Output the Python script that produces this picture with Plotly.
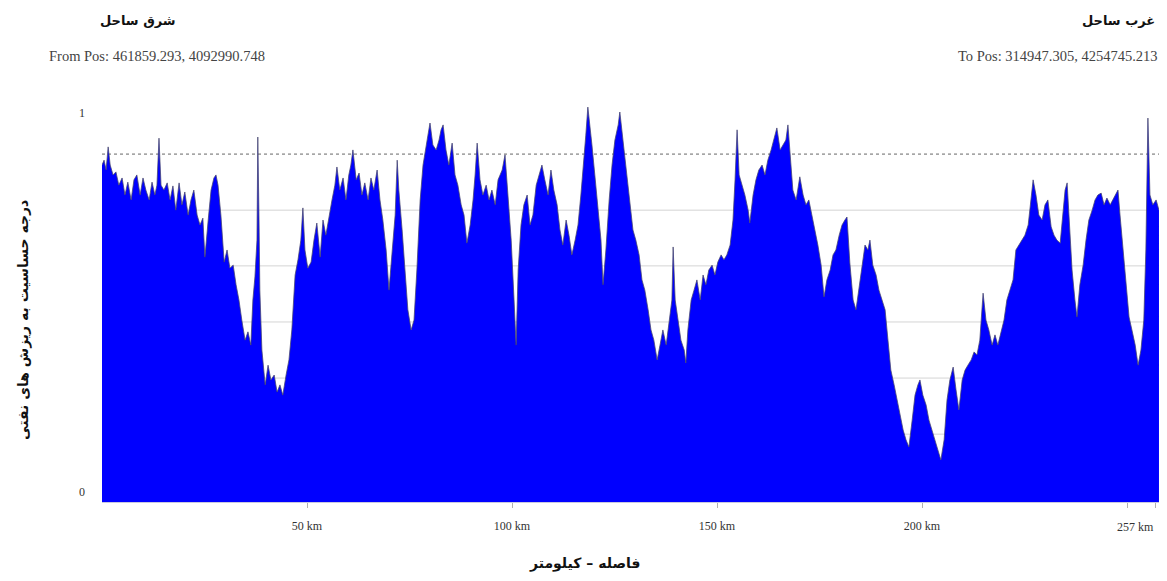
import plotly.graph_objects as go

# distance along profile (km) and oil-spill sensitivity (0..1)
distance_km = [
 0.0,0.5,1.0,1.5,2.0,2.7,3.4,4.1,4.9,5.6,6.3,7.1,7.8,8.5,9.3,10.0,10.7,11.5,12.2,12.9,13.4,13.9,14.4,15.1,15.9,
 16.6,17.3,18.0,18.8,19.5,20.2,21.0,21.7,22.4,23.2,23.9,24.6,25.1,25.9,26.6,27.3,27.8,28.3,29.0,29.8,30.5,31.2,
 32.0,32.7,33.4,34.1,34.9,35.6,36.3,36.8,37.3,37.8,38.0,38.3,38.5,39.0,39.8,40.5,41.2,42.0,42.7,43.4,44.1,44.9,
 45.6,46.3,47.1,47.8,48.5,49.0,49.5,50.2,51.0,51.7,52.4,53.2,53.9,54.6,55.4,56.1,56.8,57.3,58.0,58.8,59.5,60.2,
 60.7,61.2,62.0,62.7,63.4,64.1,64.9,65.6,66.3,67.1,67.8,68.5,69.3,70.0,70.7,71.5,72.0,72.4,73.2,73.9,74.6,75.4,
 76.1,76.8,77.6,78.3,79.0,79.5,80.0,80.7,81.5,82.2,82.7,83.2,83.9,84.6,85.4,86.1,86.8,87.6,88.3,89.0,89.8,90.5,
 91.0,91.5,92.2,92.9,93.7,94.4,95.1,95.9,96.6,97.6,98.3,99.0,99.8,100.5,101.0,101.5,102.2,102.9,103.7,104.4,
 105.1,105.9,106.6,107.3,108.0,108.8,109.5,110.2,111.0,111.7,112.4,113.2,113.9,114.6,115.4,116.1,116.8,117.6,
 118.0,118.5,119.0,119.5,120.2,121.0,121.7,122.2,122.9,123.7,124.4,125.1,125.9,126.3,126.8,127.3,128.0,128.8,
 129.5,130.2,131.0,131.7,132.4,133.2,133.9,134.6,135.4,136.1,136.8,137.6,138.3,139.0,139.3,139.8,140.5,141.2,
 142.0,142.4,142.9,143.7,144.4,145.1,145.9,146.6,147.3,148.0,148.8,149.5,150.2,151.0,151.7,152.4,153.2,153.9,
 154.4,154.9,155.4,156.1,156.8,157.6,158.0,158.8,159.5,160.2,161.0,161.7,162.4,163.2,163.9,164.6,165.4,166.1,
 166.8,167.3,167.8,168.5,169.3,170.2,171.0,171.7,172.4,173.2,173.9,174.6,175.4,176.1,176.8,177.6,178.3,179.0,
 179.8,180.5,181.2,181.7,182.4,183.2,183.9,184.6,185.4,186.1,186.8,187.3,188.0,188.8,189.5,190.2,191.0,191.7,
 192.4,193.2,193.9,194.6,195.4,196.1,196.8,197.6,198.3,199.0,199.5,200.2,201.0,201.7,202.4,203.2,203.9,204.6,
 205.4,206.1,206.8,207.6,208.3,209.0,209.8,210.5,211.2,212.0,212.7,213.4,214.1,214.9,215.6,216.3,217.1,217.8,
 218.5,219.3,220.0,220.7,221.5,222.2,222.9,223.7,224.4,225.1,225.9,226.6,227.1,227.8,228.5,229.3,230.0,230.7,
 231.5,232.2,232.9,233.7,234.4,234.9,235.4,235.9,236.6,237.3,237.8,238.5,239.3,240.0,240.7,241.5,242.2,242.9,
 243.7,244.4,245.1,245.9,246.6,247.3,247.8,248.3,249.0,249.8,250.5,251.2,252.0,252.7,253.4,254.1,254.6,255.1,
 255.6,256.3,257.1,257.8,
]
sensitivity = [
 0.889,0.902,0.876,0.937,0.889,0.863,0.871,0.836,0.855,0.810,0.844,0.797,0.850,0.863,0.810,0.855,0.823,0.797,0.844,0.810,0.836,0.960,0.836,0.823,0.842,
 0.797,0.834,0.770,0.842,0.784,0.818,0.757,0.797,0.823,0.757,0.731,0.749,0.646,0.744,0.823,0.855,0.863,0.836,0.757,0.633,0.665,0.617,
 0.625,0.573,0.533,0.480,0.427,0.449,0.414,0.533,0.594,0.691,0.963,0.744,0.559,0.401,0.309,0.361,0.322,0.335,0.290,0.309,0.282,0.335,
 0.375,0.454,0.599,0.639,0.691,0.776,0.665,0.617,0.633,0.691,0.736,0.646,0.744,0.704,0.757,0.797,0.836,0.884,0.823,0.855,0.797,0.863,
 0.889,0.929,0.850,0.868,0.810,0.842,0.797,0.855,0.823,0.876,0.797,0.744,0.665,0.559,0.652,0.757,0.902,0.823,0.718,0.612,0.507,0.454,
 0.480,0.612,0.797,0.889,0.929,0.968,1.000,0.942,0.929,0.955,0.982,0.995,0.929,0.889,0.947,0.863,0.836,0.784,0.757,0.683,0.731,0.797,
 0.863,0.947,0.850,0.810,0.836,0.797,0.823,0.784,0.850,0.876,0.916,0.797,0.691,0.533,0.414,0.612,0.731,0.784,0.810,0.731,
 0.757,0.836,0.863,0.889,0.850,0.810,0.876,0.823,0.784,0.718,0.678,0.744,0.704,0.652,0.691,0.731,0.810,0.902,
 0.968,1.042,0.995,0.942,0.863,0.770,0.691,0.573,0.665,0.797,0.889,0.955,0.995,1.029,0.982,0.929,0.863,0.784,
 0.718,0.691,0.652,0.586,0.559,0.507,0.454,0.427,0.375,0.414,0.454,0.414,0.467,0.533,0.673,0.533,0.480,0.427,
 0.401,0.367,0.454,0.533,0.559,0.586,0.533,0.599,0.573,0.612,0.625,0.599,0.633,0.652,0.639,0.652,0.678,0.744,
 0.850,0.982,0.863,0.836,0.810,0.770,0.736,0.810,0.850,0.876,0.889,0.863,0.902,0.929,0.955,0.987,0.929,0.942,
 0.955,0.995,0.929,0.823,0.797,0.858,0.810,0.784,0.797,0.757,0.718,0.678,0.625,0.541,0.586,0.612,0.652,0.665,
 0.704,0.731,0.744,0.752,0.631,0.533,0.507,0.559,0.625,0.678,0.665,0.691,0.625,0.599,0.559,0.533,0.507,0.427,
 0.348,0.309,0.269,0.235,0.190,0.164,0.145,0.216,0.282,0.309,0.322,0.282,0.256,0.216,0.190,0.164,0.137,0.111,
 0.164,0.269,0.322,0.356,0.296,0.243,0.322,0.348,0.361,0.375,0.396,0.388,0.427,0.551,0.480,0.454,0.414,0.441,
 0.414,0.454,0.480,0.533,0.559,0.586,0.665,0.678,0.691,0.704,0.731,0.797,0.850,0.810,0.757,0.744,0.784,0.797,
 0.726,0.704,0.691,0.683,0.770,0.823,0.842,0.744,0.612,0.533,0.488,0.573,0.625,0.691,0.744,0.770,0.797,0.810,
 0.815,0.784,0.802,0.784,0.797,0.810,0.823,0.757,0.665,0.559,0.488,0.454,0.414,0.361,0.401,0.480,0.665,1.013,
 0.810,0.784,0.797,0.770,
]

x_tick_vals = [50, 100, 150, 200, 250, 257]
x_tick_text = ["50 km", "100 km", "150 km", "200 km", "", ""]
end_km = 257
end_label = "257 km"
y_tick_vals = [0, 1]
y_tick_text = ["0", "1"]
threshold_level = 0.918
grid_levels = [0.770, 0.623, 0.475, 0.327, 0.179, 0.032]

title_left = "شرق ساحل"
title_right = "غرب ساحل"
from_text = "From Pos: 461859.293, 4092990.748"
to_text = "To Pos: 314947.305, 4254745.213"
x_title = "فاصله – کیلومتر"
y_title = "درجه حساسیت به ریزش های نفتی"

fig = go.Figure()
fig.add_trace(go.Scatter(
    x=distance_km, y=sensitivity, mode="lines", fill="tozeroy",
    fillcolor="#0000FF", line=dict(color="rgba(70,70,110,0.85)", width=0.9),
    hoverinfo="skip", showlegend=False))

shapes = []
for g in grid_levels:
    shapes.append(dict(type="line", xref="paper", x0=0, x1=1, yref="y", y0=g, y1=g,
                       line=dict(color="#d4d4d4", width=1), layer="below"))
shapes.append(dict(type="line", xref="paper", x0=0, x1=1, yref="y", y0=threshold_level, y1=threshold_level,
                   line=dict(color="#666666", width=1, dash="dot"), layer="below"))

serif = "Liberation Serif"
arab = "DejaVu Sans"
annotations = [
    dict(text="<b>" + title_left + "</b>", xref="paper", yref="paper", x=0.034, y=1.199,
         xanchor="center", yanchor="middle", showarrow=False, font=dict(family=arab, size=13, color="#111")),
    dict(text=from_text, xref="paper", yref="paper", x=-0.052, y=1.109,
         xanchor="left", yanchor="middle", showarrow=False, font=dict(family=serif, size=14.5, color="#444")),
    dict(text="<b>" + title_right + "</b>", xref="paper", yref="paper", x=0.997, y=1.199,
         xanchor="right", yanchor="middle", showarrow=False, font=dict(family=arab, size=13, color="#111")),
    dict(text=to_text, xref="paper", yref="paper", x=1.0, y=1.109,
         xanchor="right", yanchor="middle", showarrow=False, font=dict(family=serif, size=14.5, color="#444")),
    dict(text="<b>" + x_title + "</b>", xref="paper", yref="paper", x=0.4565, y=-0.152,
         xanchor="center", yanchor="middle", showarrow=False, font=dict(family=arab, size=14, color="#111")),
    dict(text="<b>" + y_title + "</b>", xref="paper", yref="paper", x=-0.0737, y=0.453,
         xanchor="center", yanchor="middle", textangle=-90, showarrow=False,
         font=dict(family=arab, size=14, color="#111")),
    dict(text=end_label, xref="x", yref="paper", x=end_km, y=-0.062,
         xanchor="right", yanchor="middle", showarrow=False, font=dict(family=serif, size=12, color="#333")),
]

# the page body has an 8px margin, so the figure is sized/margined to place the plot area
# at the same page position as the reference
fig.update_layout(
    width=1159, height=565,
    margin=dict(l=94, r=7, t=92, b=71, pad=0),
    paper_bgcolor="white", plot_bgcolor="white",
    shapes=shapes, annotations=annotations,
    xaxis=dict(range=[0, 258.05], tickvals=x_tick_vals, ticktext=x_tick_text,
               showgrid=False, zeroline=False, ticks="outside", ticklen=5, tickcolor="#b0b0b0",
               tickfont=dict(family=serif, size=12, color="#333"), ticklabelstandoff=8,
               showline=True, linecolor="#c8c8e0", linewidth=1),
    yaxis=dict(range=[0, 1.0607], tickvals=y_tick_vals, ticktext=y_tick_text,
               showgrid=False, zeroline=False, ticks="", ticklabelshift=-10, ticklabelstandoff=16,
               tickfont=dict(family=serif, size=12, color="#333")),
)

fig.write_html("out.html")
